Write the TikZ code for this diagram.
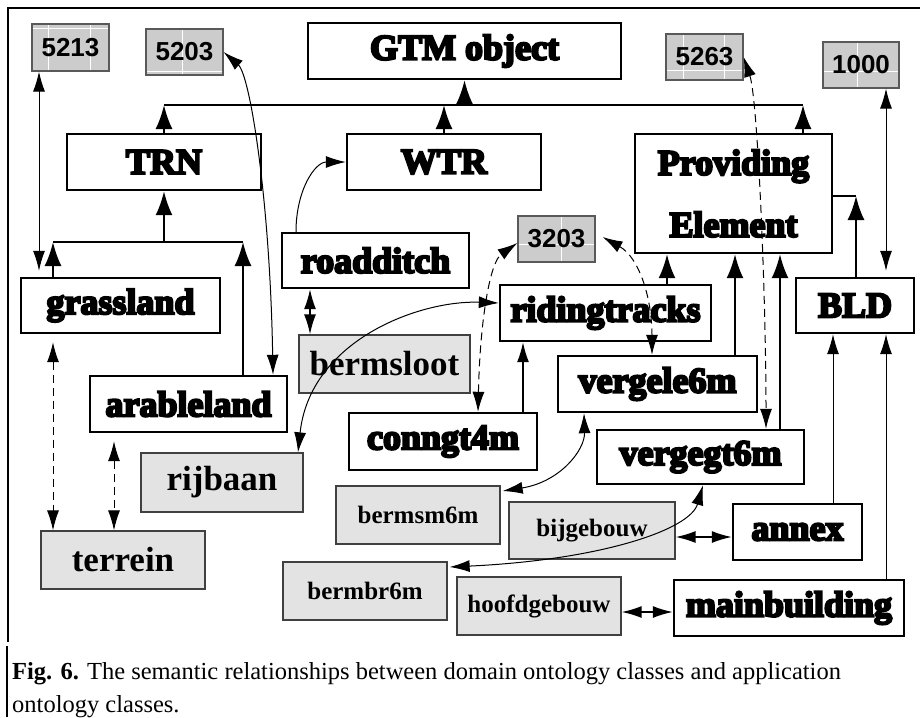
\documentclass[tikz,border=0pt]{standalone}
\usepackage{fontspec}
\setmainfont{Liberation Serif}
\newfontfamily\heavyfont{Liberation Serif}[BoldFeatures={FakeBold=6}]
\newfontfamily\numfont{Liberation Sans}
\usetikzlibrary{arrows.meta}

\tikzset{
  tipA/.tip={Latex[length=20pt,width=12pt]},
  tipB/.tip={Latex[length=24pt,width=17pt]},
  arr/.style={-tipA},
  biarr/.style={tipA-tipA},
  treearr/.style={-tipB},
  sz/.style 2 args={minimum width=#1pt, minimum height=#2pt},
  classbox/.style={draw, line width=2.4pt, inner sep=0pt,
    font=\heavyfont\bfseries\fontsize{36}{36}\selectfont},
  appbox/.style={draw=black!75, line width=1.3pt, fill=black!11, inner sep=0pt,
    font=\bfseries\fontsize{35}{35}\selectfont},
  smallapp/.style={appbox, font=\bfseries\fontsize{25}{25}\selectfont},
  codebox/.style={draw=black!65, line width=1.2pt, fill=black!20, inner sep=0pt,
    font=\numfont\bfseries\fontsize{26}{26}\selectfont},
  cells/.style 2 args={path picture={
    \foreach \cx in {#1}{
      \draw[white, line width=1pt]
        ([xshift=\cx pt]path picture bounding box.north west) --
        ([xshift=\cx pt]path picture bounding box.south west);}
    \draw[white, line width=1pt]
      ([yshift=-#2 pt]path picture bounding box.north west) --
      ([yshift=-#2 pt]path picture bounding box.north east);}},
  tree/.style={line width=2pt},
  midlink/.style={line width=1.5pt},
  link/.style={line width=1pt},
  dashlink/.style={line width=1pt, dash pattern=on 8pt off 5pt},
  frame/.style={line width=2.6pt},
  captext/.style={anchor=base west, inner sep=0pt, font=\fontsize{24.5}{33}\selectfont},
}

\begin{document}
\begin{tikzpicture}[x=1pt, y=-1pt]
\useasboundingbox (0,0) rectangle (920,717);

% outer frame
\draw[frame] (920,8) -- (8,8) -- (8,642);
\draw[frame] (7,646) -- (7,717);

% domain ontology classes
\node[classbox, sz={313}{56}] (gtm) at (464.5,51) {GTM object};
\node[classbox, sz={194}{56}] (trn) at (164,162) {TRN};
\node[classbox, sz={194}{56}] (wtr) at (444,162) {WTR};
\node[classbox, sz={197}{119}, align=center,
      font=\heavyfont\bfseries\fontsize{36}{62}\selectfont] (prov) at (733.5,193.5) {Providing\\Element};
\node[classbox, sz={118}{55}] (bld) at (855,305.5) {BLD};
\node[classbox, sz={199}{55}] (grass) at (120.5,305.5) {grassland};
\node[classbox, sz={197}{56}] (arable) at (188.5,404) {arableland};
\node[classbox, sz={187}{55}] (road) at (375.5,260.5) {roadditch};
\node[classbox, sz={211}{56}] (riding) at (605.5,313) {ridingtracks};
\node[classbox, sz={199}{56}] (vergele) at (657.5,384) {vergele6m};
\node[classbox, sz={188}{57}] (conn) at (443,441.5) {conngt4m};
\node[classbox, sz={207}{54}] (vergegt) at (700.5,457) {vergegt6m};
\node[classbox, sz={129}{56}] (annex) at (797.5,532) {annex};
\node[classbox, sz={230}{56}] (mainb) at (789,608) {mainbuilding};

% application ontology classes
\node[appbox, sz={171}{58}] (berms) at (384.5,364) {bermsloot};
\node[appbox, sz={162}{59}] (rijbaan) at (222,482.5) {rijbaan};
\node[appbox, sz={164}{58}] (terrein) at (123,560) {terrein};
\node[smallapp, sz={164}{58}] (bermsm) at (418,515) {bermsm6m};
\node[smallapp, sz={166}{57}] (bijge) at (592,530.5) {bijgebouw};
\node[smallapp, sz={164}{58}] (bermbr) at (365,591) {bermbr6m};
\node[smallapp, sz={164}{58}] (hoofd) at (539,606) {hoofdgebouw};

% code boxes
\node[codebox, sz={77}{47}, cells={16,58}{5}] (n5213) at (70.5,47.5) {5213};
\node[codebox, sz={77}{46}, cells={36}{42}] (n5203) at (184.5,52) {5203};
\node[codebox, sz={77}{46}, cells={17,58}{36}] (n5263) at (704.5,57) {5263};
\node[codebox, sz={76}{46}, cells={34}{29}] (n1000) at (861,65) {1000};
\node[codebox, sz={77}{46}, cells={43}{28}] (n3203) at (556.5,239) {3203};

% reference coordinates for buses and vertical connectors
\coordinate (ybus) at (0,105);
\coordinate (busR) at (803,105);
\coordinate (ylow) at (0,242);
\coordinate (xgrass) at (53,0);
\coordinate (xarab) at (243,0);
\coordinate (bldcorner) at (856,196);
\coordinate (x39) at (39,0);
\coordinate (x114) at (114,0);
\coordinate (x310) at (310,0);
\coordinate (x523) at (523,0);
\coordinate (x667) at (667,0);
\coordinate (x735) at (735,0);
\coordinate (x780) at (780,0);
\coordinate (x833) at (833,0);
\coordinate (x886) at (886,0);
\coordinate (y537) at (0,537);
\coordinate (y612) at (0,612);

% is-a hierarchy under GTM object
\draw[tree] (trn.north |- ybus) -- (busR);
\draw[tree,treearr] (gtm.south |- ybus) -- (gtm.south);
\draw[tree,treearr] (trn.north) -- (trn.north |- ybus);
\draw[tree,treearr] (wtr.north) -- (wtr.north |- ybus);
\draw[tree,treearr] (prov.north -| busR) -- (busR);

% is-a hierarchy under TRN
\draw[tree] (xgrass |- ylow) -- (xarab |- ylow);
\draw[tree,treearr] (trn.south |- ylow) -- (trn.south);
\draw[tree,treearr] (grass.north -| xgrass) -- (xgrass |- ylow);
\draw[tree,treearr] (arable.north -| xarab) -- (xarab |- ylow);

% is-a links into Providing Element and BLD
\draw[tree,treearr] (riding.north -| x667) -- (prov.south -| x667);
\draw[tree,treearr] (vergele.north -| x735) -- (prov.south -| x735);
\draw[tree,treearr] (vergegt.north -| x780) -- (prov.south -| x780);
\draw[tree,treearr] (bld.north -| bldcorner) -- (bldcorner);
\draw[tree] (bldcorner) -- (prov.east |- bldcorner);
\draw[link,arr] (annex.north -| x833) -- (bld.south -| x833);
\draw[link,arr] (mainb.north -| x886) -- (bld.south -| x886);
\draw[midlink,arr] (conn.north -| x523) -- (riding.south -| x523);
\draw[link,arr] ([xshift=-79.5pt]road.north) .. controls (296,190) and (315,162) .. (wtr.west);

% links to code boxes
\draw[link,biarr,shorten >=6pt] (n5213.south -| x39) -- (grass.north -| x39);
\draw[link,biarr,shorten >=6pt] (n1000.south -| x886) -- (bld.north -| x886);
\draw[link,biarr] (n5203.east) .. controls (250,75) and (270,200) .. ([xshift=84.5pt]arable.north);
\draw[dashlink,biarr] ([xshift=35pt]conn.north) .. controls (480,320) and (490,262) .. ([yshift=-4pt]n3203.west);
\draw[dashlink,biarr] ([xshift=7pt,yshift=2pt]n3203.east) .. controls (640,258) and (652,300) .. ([xshift=-5.5pt]vergele.north);
\draw[dashlink,biarr] (n5263.east) .. controls (758,100) and (766,300) .. ([xshift=65.5pt]vergegt.north);

% correspondences between domain and application classes
\draw[dashlink,biarr,shorten <=8pt] (grass.south -| xgrass) -- (terrein.north -| xgrass);
\draw[dashlink,biarr,shorten <=8pt] (arable.south -| x114) -- (terrein.north -| x114);
\draw[midlink,biarr] (road.south -| x310) -- (berms.north -| x310);
\draw[link,biarr] ([xshift=76pt]rijbaan.north) .. controls (310,340) and (420,300) .. ([yshift=10pt]riding.west);
\draw[link,biarr] ([xshift=2pt,yshift=24pt]bermsm.east) .. controls (560,482) and (585,450) .. ([xshift=-73.5pt]vergele.south);
\draw[link,biarr] ([xshift=2pt,yshift=24pt]bermbr.east) .. controls (600,560) and (690,530) .. ([xshift=2.5pt]vergegt.south);
\draw[midlink,biarr] (bijge.east |- y537) -- (annex.west |- y537);
\draw[midlink,biarr] (hoofd.east |- y612) -- (mainb.west |- y612);

% caption
\node[captext] (cap1) at (12,679) {\textbf{Fig. 6.} The semantic relationships between domain ontology classes and application};
\node[captext] (cap2) at (12,712) {ontology classes.};
\end{tikzpicture}
\end{document}
